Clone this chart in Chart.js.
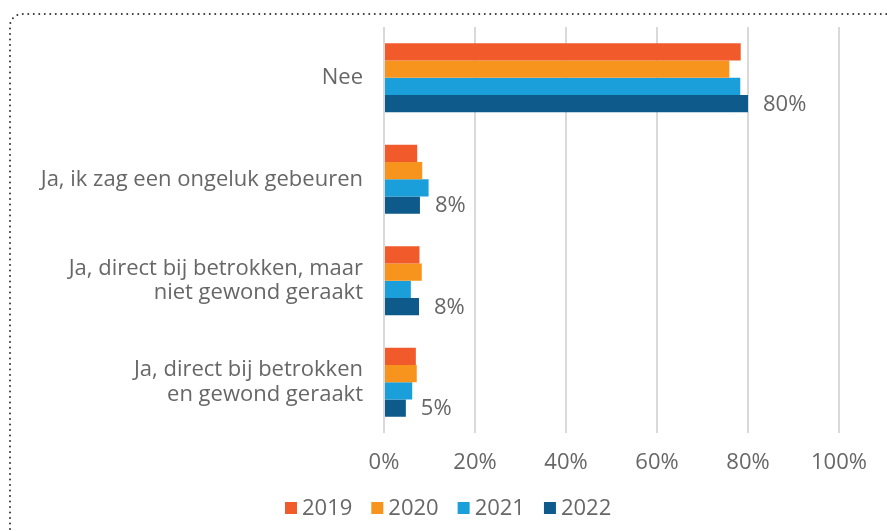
<!DOCTYPE html>
<html>
<head>
<meta charset="utf-8">
<script src="https://cdn.jsdelivr.net/npm/chart.js@4/dist/chart.umd.min.js"></script>
<style>
html,body{margin:0;padding:0;background:#fff;}
#wrap{position:absolute;left:0;top:0;width:887px;height:531px;}
</style>
</head>
<body>
<div id="wrap"><canvas id="c" width="887" height="531"></canvas></div>
<script>
const categories = [
  "Nee",
  "Ja, ik zag een ongeluk gebeuren",
  ["Ja, direct bij betrokken, maar", "niet gewond geraakt"],
  ["Ja, direct bij betrokken", "en gewond geraakt"]
];
const years = ["2019", "2020", "2021", "2022"];
const values2019 = [78.4, 7.3, 7.8, 7.0];
const values2020 = [75.9, 8.4, 8.3, 7.2];
const values2021 = [78.3, 9.8, 5.9, 6.2];
const values2022 = [80.0, 7.9, 7.7, 4.8];
const labels2022 = ["80%", "8%", "8%", "5%"];
const xTicks = [0, 20, 40, 60, 80, 100];
const colors = ["#F15A2B", "#F7941D", "#1A9FDA", "#0E5A8A"];

const FONT = "'Open Sans', 'DejaVu Sans', sans-serif";
const FS = 22;
const GRAY = "#676767";

const frame = {
  id: 'frame',
  beforeDraw(chart) {
    const ctx = chart.ctx;
    ctx.save();
    ctx.strokeStyle = '#333';
    ctx.lineWidth = 2;
    ctx.lineCap = 'round';
    ctx.setLineDash([0, 5.5]);
    ctx.beginPath();
    ctx.moveTo(10, 540);
    ctx.lineTo(10, 26);
    ctx.arcTo(10, 14, 22, 14, 12);
    ctx.lineTo(900, 14);
    ctx.stroke();
    ctx.restore();
  }
};

const endLabels = {
  id: 'endLabels',
  afterDatasetsDraw(chart) {
    const ctx = chart.ctx;
    const meta = chart.getDatasetMeta(3);
    ctx.save();
    ctx.font = FS + "px " + FONT;
    ctx.fillStyle = GRAY;
    ctx.textAlign = 'left';
    ctx.textBaseline = 'middle';
    meta.data.forEach((bar, i) => {
      ctx.fillText(labels2022[i], bar.x + 15, bar.y + 1);
    });
    ctx.restore();
  }
};

const customLegend = {
  id: 'customLegend',
  afterDraw(chart) {
    const ctx = chart.ctx;
    const ds = chart.data.datasets;
    ctx.save();
    ctx.font = FS + "px " + FONT;
    ctx.textBaseline = 'middle';
    ctx.textAlign = 'left';
    const box = 12, gap = 5, spacing = 19;
    const widths = ds.map(d => box + gap + ctx.measureText(d.label).width);
    let x = 285;
    const cy = 508;
    ds.forEach((d, i) => {
      ctx.fillStyle = d.backgroundColor;
      ctx.fillRect(x, cy - 6, box, box);
      ctx.fillStyle = GRAY;
      ctx.fillText(d.label, x + box + gap, cy + 1);
      x += widths[i] + spacing;
    });
    ctx.restore();
  }
};

const seriesValues = [values2019, values2020, values2021, values2022];

new Chart(document.getElementById('c'), {
  type: 'bar',
  data: {
    labels: categories,
    datasets: years.map((y, i) => ({
      label: y,
      data: seriesValues[i],
      backgroundColor: colors[i],
      borderWidth: 0,
      categoryPercentage: 0.68,
      barPercentage: 1.0
    }))
  },
  options: {
    indexAxis: 'y',
    responsive: false,
    animation: false,
    devicePixelRatio: 1,
    layout: { padding: { left: 0, right: 48, top: 27, bottom: 48 } },
    scales: {
      x: {
        min: 0, max: 100,
        afterBuildTicks(scale) { scale.ticks = xTicks.map(v => ({ value: v })); },
        grid: { color: '#d9d9d9', lineWidth: 2, drawTicks: false },
        border: { display: false },
        ticks: {
          padding: 17,
          color: GRAY,
          font: { family: FONT, size: FS },
          callback: v => v + '%'
        },
        afterFit(scale) { scale.height = 50; scale.paddingLeft = 0; scale.paddingRight = 0; }
      },
      y: {
        grid: { display: false, drawTicks: false },
        border: { display: false },
        ticks: {
          padding: 21,
          color: GRAY,
          font: { family: FONT, size: FS, lineHeight: 1.1 }
        },
        afterFit(scale) { scale.width = 384; scale.paddingTop = 0; scale.paddingBottom = 0; }
      }
    },
    plugins: {
      legend: { display: false },
      tooltip: { enabled: false }
    }
  },
  plugins: [frame, endLabels, customLegend]
});
</script>
</body>
</html>
